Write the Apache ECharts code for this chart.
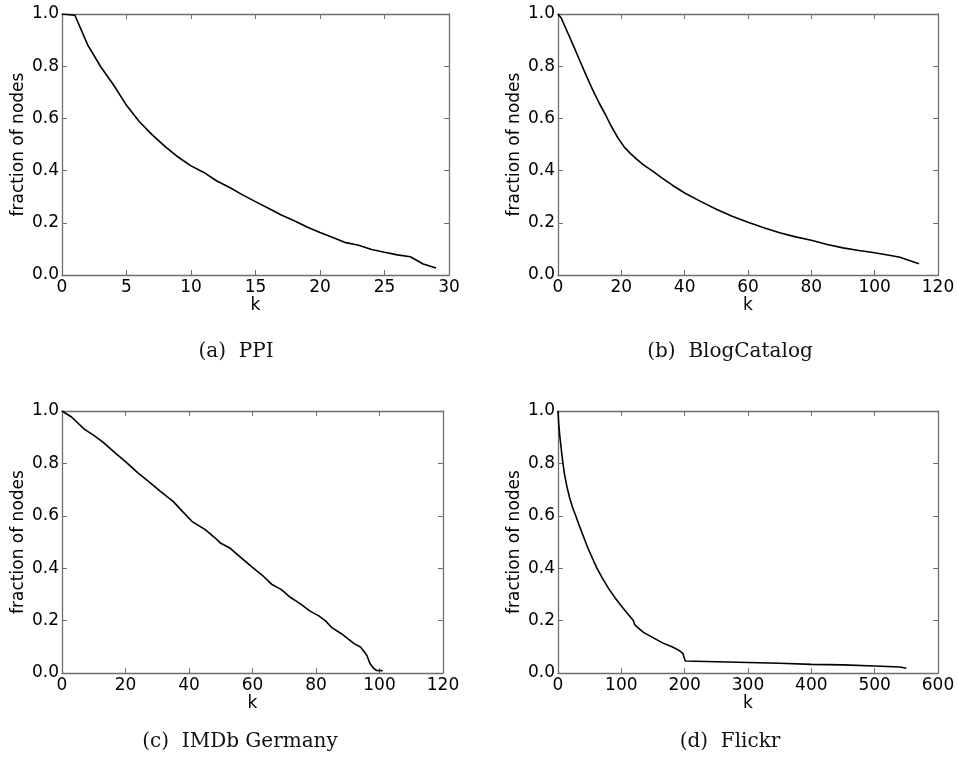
<!DOCTYPE html>
<html>
<head>
<meta charset="utf-8">
<script src="https://cdn.jsdelivr.net/npm/echarts@6/dist/echarts.min.js"></script>
<style>html,body{margin:0;padding:0;background:#fff}#c{width:958px;height:764px}</style>
</head>
<body>
<div id="c"></div>
<script>
// ---- data ----
const ppiK = [0,1,2,3,4,5,6,7,8,9,10,11,12,13,14,15,16,17,18,19,20,21,22,23,24,25,26,27,28,29];
const ppiFrac = [1.0,0.995,0.881,0.798,0.728,0.650,0.587,0.537,0.492,0.452,0.418,0.393,0.360,0.335,0.307,0.281,0.256,0.230,0.208,0.184,0.163,0.144,0.124,0.114,0.098,0.087,0.077,0.070,0.042,0.027];

const blogK = [0,1,3,5,7,9,11,13,15,17,19,21,23,25,27,30,33,36,40,45,50,55,60,65,70,75,80,85,90,95,100,105,108,110,114];
const blogFrac = [1.0,0.985,0.93,0.875,0.818,0.762,0.708,0.659,0.614,0.566,0.524,0.489,0.464,0.442,0.422,0.397,0.370,0.345,0.314,0.282,0.252,0.225,0.202,0.181,0.162,0.146,0.133,0.117,0.104,0.094,0.085,0.075,0.068,0.059,0.043];

const imdbK = [0,3,7,10,13,17,20,24,28,31,35,38,41,45,48,50,53,56,60,63,66,69,72,75,78,81,83,85,88,90,92,94,95,96,97,98,99,101];
const imdbFrac = [1.0,0.977,0.931,0.907,0.880,0.837,0.807,0.763,0.724,0.693,0.655,0.616,0.578,0.548,0.518,0.495,0.476,0.444,0.403,0.374,0.339,0.319,0.288,0.265,0.237,0.217,0.199,0.173,0.150,0.131,0.112,0.099,0.084,0.068,0.036,0.020,0.010,0.009];

const flickrK = [0,1,3,5,7,10,14,18,23,28,34,40,47,54,61,70,80,90,100,110,119,121,125,135,150,165,180,190,197,200,201,250,300,350,400,450,500,540,550];
const flickrFrac = [1.0,0.955,0.90,0.858,0.815,0.762,0.712,0.672,0.632,0.600,0.560,0.522,0.478,0.440,0.402,0.362,0.322,0.287,0.256,0.226,0.200,0.185,0.175,0.155,0.135,0.115,0.100,0.088,0.075,0.068,0.046,0.043,0.040,0.037,0.033,0.031,0.027,0.023,0.018];

const xMaxes = [30,120,120,600];
const xIntervals = [5,20,20,100];
const captions = ['(a)  PPI','(b)  BlogCatalog','(c)  IMDb Germany','(d)  Flickr'];
const yName = 'fraction of nodes';
const xName = 'k';

// ---- layout ----
const grids = [
  {left:62, top:14, width:387, height:261},
  {left:558, top:14, width:380, height:261},
  {left:62, top:411, width:381, height:262},
  {left:558, top:411, width:380, height:262}
];
const capPos = [[236,352],[730,352],[240,742],[730,742]];

const frameColor = '#6e6e6e';
const FONT = 'DejaVu Sans';
const xAxes = [], yAxes = [], series = [];
const datasets = [[ppiK,ppiFrac],[blogK,blogFrac],[imdbK,imdbFrac],[flickrK,flickrFrac]];

grids.forEach((g,i)=>{
  const common = {
    type:'value', gridIndex:i, min:0,
    axisLine:{show:true, onZero:false, lineStyle:{color:frameColor, width:1.3}},
    axisTick:{show:true, inside:true, length:5, lineStyle:{color:frameColor, width:1}},
    splitLine:{show:false}
  };
  xAxes.push(Object.assign({}, common, {
    position:'bottom', max:xMaxes[i], interval:xIntervals[i],
    axisLabel:{show:true, color:'#000', fontFamily:FONT, fontSize:17, margin:4},
    name:xName, nameLocation:'middle', nameGap:21,
    nameTextStyle:{color:'#000', fontFamily:FONT, fontSize:17}
  }));
  xAxes.push(Object.assign({}, common, {
    position:'top', max:xMaxes[i], interval:xIntervals[i],
    axisLabel:{show:false}
  }));
  yAxes.push(Object.assign({}, common, {
    position:'left', max:1, interval:0.2,
    axisLabel:{show:true, color:'#000', fontFamily:FONT, fontSize:17, margin:3,
      formatter:v=>v.toFixed(1)},
    name:yName, nameLocation:'middle', nameGap:35, nameRotate:90,
    nameTextStyle:{color:'#000', fontFamily:FONT, fontSize:17}
  }));
  yAxes.push(Object.assign({}, common, {
    position:'right', max:1, interval:0.2,
    axisLabel:{show:false}
  }));
  const [ks, vs] = datasets[i];
  series.push({
    type:'line', xAxisIndex:2*i, yAxisIndex:2*i, showSymbol:false, symbol:'none',
    lineStyle:{color:'#000', width:1.6}, animation:false,
    data: ks.map((k,j)=>[k, vs[j]])
  });
});

const graphic = captions.map((t,i)=>({
  type:'text', x:capPos[i][0], y:capPos[i][1],
  style:{text:t, fill:'#111', font:'20px "DejaVu Serif"', fontFamily:'DejaVu Serif', fontSize:20,
    textAlign:'center', textVerticalAlign:'middle', align:'center', verticalAlign:'middle'}
}));

const chart = echarts.init(document.getElementById('c'), null, {renderer:'canvas'});
chart.setOption({
  animation:false,
  backgroundColor:'#fff',
  grid: grids,
  xAxis: xAxes,
  yAxis: yAxes,
  series: series,
  graphic: graphic
});
</script>
</body>
</html>
